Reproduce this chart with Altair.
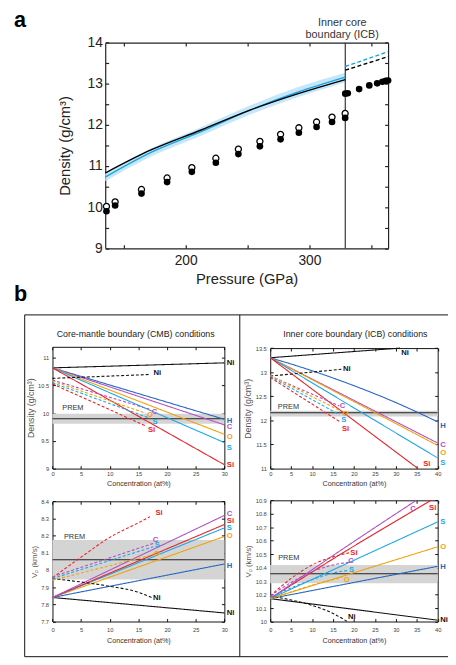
import altair as alt
import pandas as pd

W, H = 448, 657
FONT = "Liberation Sans"

# ---------------- Panel a data ----------------
prem_p = [136, 143, 164.3, 185, 205, 224.4, 242.6, 260, 276.7, 291.5, 305.8, 318.3, 328.9]
prem_open = [10.02, 10.13, 10.43, 10.71, 10.96, 11.19, 11.41, 11.60, 11.77, 11.93, 12.07, 12.19, 12.28]
prem_filled = [9.90, 10.04, 10.33, 10.61, 10.86, 11.08, 11.29, 11.48, 11.65, 11.81, 11.95, 12.07, 12.17]
ic_p = [329, 331, 340.2, 348.4, 354.8, 359, 361.7, 363.6]
ic_rho = [12.76, 12.77, 12.87, 12.96, 13.01, 13.05, 13.07, 13.08]
calc_p = [135, 172, 212, 252, 291, 329]
calc_black = [10.83, 11.39, 11.87, 12.36, 12.76, 13.10]
calc_blue = [10.73, 11.33, 11.83, 12.36, 12.80, 13.16]
band_lo = [10.63, 11.23, 11.73, 12.25, 12.68, 13.04]
band_hi = [10.83, 11.43, 11.94, 12.47, 12.92, 13.27]
ic_calc_p = [329, 363.6]
ic_black = [13.33, 13.66]
ic_blue = [13.42, 13.78]
icb_pressure = [329]
a_xdom, a_ydom = [135, 363.6], [9, 14]

# ---------------- Panel b data ----------------
ELEMENTS = ["Ni", "H", "C", "O", "S", "Si"]

cmb_rho_solid = {"Ni": ([0, 30], [10.82, 10.91]), "H": ([0, 30], [10.82, 9.89]),
                 "C": ([0, 30], [10.82, 9.79]), "O": ([0, 30], [10.82, 9.62]),
                 "S": ([0, 30], [10.82, 9.47]), "Si": ([0, 30], [10.82, 9.07])}
cmb_rho_dashed = {"Ni": ([0, 17], [10.63, 10.70]), "C": ([0, 17], [10.60, 10.07]),
                  "O": ([0, 16.3], [10.58, 10.0]), "S": ([0, 17], [10.55, 9.91]),
                  "Si": ([0, 16.3], [10.53, 9.77])}
cmb_rho_prem = [9.90, 9.81, 9.99]
cmb_rho_end = {"Ni": 10.91, "H": 9.86, "C": 9.745, "O": 9.57, "S": 9.37, "Si": 9.07}
cmb_rho_mid = [("Ni", 18.3, 10.72), ("C", 17.8, 10.03), ("O", 17.0, 9.96), ("S", 17.9, 9.85), ("Si", 17.3, 9.70)]

cmb_vp_solid = {"Ni": ([0, 30], [7.84, 7.75]), "H": ([0, 30], [7.84, 8.035]),
                "O": ([0, 30], [7.84, 8.195]), "S": ([0, 30], [7.84, 8.245]),
                "Si": ([0, 30], [7.84, 8.265]), "C": ([0, 30], [7.84, 8.318])}
cmb_vp_dashed = {"Ni": ([0, 5, 10, 15, 17.3], [7.95, 7.93, 7.905, 7.87, 7.84]),
                 "Si": ([0, 5, 10, 15, 17], [7.955, 8.075, 8.19, 8.275, 8.31]),
                 "C": ([0, 17.6], [7.96, 8.155]), "S": ([0, 17.6], [7.95, 8.135]),
                 "O": ([0, 17.6], [7.94, 8.09])}
cmb_vp_prem = [8.06, 7.945, 8.175]
cmb_vp_end = {"C": 8.326, "Si": 8.286, "S": 8.243, "O": 8.196, "H": 8.025, "Ni": 7.749}
cmb_vp_mid = [("Si", 18.6, 8.33), ("C", 18.0, 8.177), ("S", 18.3, 8.143), ("O", 18.2, 8.095), ("Ni", 18.2, 7.838)]

icb_rho_solid = {"Ni": ([0, 31], [13.3, 13.5]),
                 "H": ([0, 10, 20, 30, 40], [13.3, 13.03, 12.72, 12.37, 11.97]),
                 "C": ([0, 40], [13.3, 11.53]), "O": ([0, 40], [13.3, 11.48]),
                 "S": ([0, 40], [13.3, 11.22]), "Si": ([0, 35.3], [13.3, 11.0])}
icb_rho_dashed = {"Ni": ([0, 17], [12.92, 13.06]), "C": ([0, 16.5], [12.92, 12.30]),
                  "O": ([0, 16.5], [12.93, 12.21]), "S": ([0, 16.5], [12.91, 12.12]),
                  "Si": ([0, 16.5], [12.89, 11.98])}
icb_rho_prem = [12.16, 12.08, 12.20]
icb_rho_end = {"H": 11.89, "C": 11.49, "O": 11.32, "S": 11.12}
icb_rho_mid = [("Ni", 32.2, 13.40), ("Si", 37.4, 11.1), ("Ni", 18.3, 13.06), ("C", 17.25, 12.30),
               ("O", 18.0, 12.14), ("S", 17.6, 12.0), ("Si", 18.0, 11.83)]

icb_vp_solid = {"Ni": ([0, 40], [10.17, 10.01]), "H": ([0, 40], [10.17, 10.41]),
                "O": ([0, 40], [10.17, 10.555]), "S": ([0, 40], [10.17, 10.74]),
                "Si": ([0, 15, 38.4], [10.17, 10.465, 10.9]),
                "C": ([0, 15, 34.9], [10.17, 10.49, 10.9])}
icb_vp_dashed = {"Ni": ([0, 5, 10, 15, 18.4], [10.19, 10.16, 10.12, 10.06, 10.0]),
                 "Si": ([0, 5, 10, 15, 18.8], [10.19, 10.32, 10.42, 10.48, 10.51]),
                 "C": ([0, 5, 10, 15, 18.8], [10.19, 10.29, 10.37, 10.42, 10.44]),
                 "S": ([0, 5, 10, 15, 18.8], [10.18, 10.25, 10.31, 10.36, 10.38]),
                 "O": ([0, 5, 10, 15, 17.2], [10.17, 10.22, 10.27, 10.31, 10.33])}
icb_vp_prem = [10.355, 10.285, 10.42]
icb_vp_end = {"S": 10.742, "O": 10.552, "H": 10.406, "Ni": 10.012}
icb_vp_mid = [("C", 34.1, 10.839), ("Si", 38.8, 10.846), ("Si", 20.0, 10.51), ("C", 19.3, 10.45),
              ("S", 19.4, 10.384), ("O", 18.3, 10.31), ("Ni", 19.5, 10.034)]

prem_label_pos = {"cmb_rho": (1.7, 10.09), "cmb_vp": (2.0, 8.19), "icb_rho": (1.8, 12.28), "icb_vp": (1.9, 10.474)}

# ---------------- styles ----------------
COLORS = {"Ni": "#111111", "H": "#2566c0", "C": "#b150c5", "O": "#f0a30a", "S": "#1ba8e6", "Si": "#ec2127"}
color_enc = alt.Color("el:N", scale=alt.Scale(domain=ELEMENTS, range=[COLORS[e] for e in ELEMENTS]), legend=None)
dash_enc = alt.StrokeDash("kind:N", scale=alt.Scale(domain=["solid", "dashed"], range=[[1, 0], [3, 2]]), legend=None)
LABEL_SIZE = 7.8


def tick_layers(xs, ys, xpx, ypx, xticks, yticks, anchor, tsize, width, col):
    common = dict(labels=False, title=None, grid=False, ticks=True, tickSize=tsize, domain=True,
                  domainColor=col, tickColor=col, domainWidth=width, tickWidth=width)
    a = alt.Chart(anchor).mark_point(opacity=0).encode(
        x=alt.X("x:Q", scale=xs, axis=alt.Axis(orient="top", offset=-ypx[0], values=xticks, **common)),
        y=alt.Y("y:Q", scale=ys, axis=alt.Axis(orient="right", offset=xpx[0] - W, values=yticks, **common)))
    b = alt.Chart(anchor).mark_point(opacity=0).encode(
        x=alt.X("x:Q", scale=xs, axis=alt.Axis(orient="bottom", offset=ypx[1] - H, values=xticks, **common)),
        y=alt.Y("y:Q", scale=ys, axis=alt.Axis(orient="left", offset=-xpx[1], values=yticks, **common)))
    return [a, b]


def panel_b(solid, dashed, prem, end_lab, mid_lab, plab, xdom, ydom, xpx, ypx, xticks, yticks,
            ytitle, ytitle_size, xlab_pad, xtitle_pad, ytitle_pad):
    xs = alt.Scale(domain=xdom, range=xpx, nice=False, zero=False)
    ys = alt.Scale(domain=ydom, range=ypx, nice=False, zero=False)
    xax = alt.Axis(orient="bottom", offset=ypx[0] - H, values=xticks, format="~r", ticks=False, tickSize=0,
                   domain=False, grid=False, labelFontSize=5.8, labelColor="#444", labelPadding=xlab_pad,
                   labelFlush=False, labelOverlap=False, title="Concentration (at%)", titleFontSize=7.3,
                   titleFontWeight="normal", titleColor="#333", titlePadding=xtitle_pad, minExtent=0)
    yax = alt.Axis(orient="left", offset=-xpx[0], values=yticks, format="~r", ticks=False, tickSize=0,
                   domain=False, grid=False, labelFontSize=5.8, labelColor="#444", labelPadding=4,
                   labelFlush=False, labelOverlap=False, title=ytitle, titleFontSize=ytitle_size,
                   titleFontWeight="normal", titleColor="#555", titlePadding=ytitle_pad, minExtent=0)
    X = lambda f: alt.X(f, scale=xs, axis=xax)
    Y = lambda f: alt.Y(f, scale=ys, axis=yax)
    rows = []
    for kind, d in (("solid", solid), ("dashed", dashed)):
        for el, (xv, yv) in d.items():
            for a, b in zip(xv, yv):
                rows.append({"x": a, "y": b, "el": el, "kind": kind, "key": el + kind})
    df = pd.DataFrame(rows)
    pdf = pd.DataFrame({"x0": [xdom[0]], "x1": [xdom[1]], "v": [prem[0]], "lo": [prem[1]], "hi": [prem[2]],
                        "lx": [plab[0]], "ly": [plab[1]], "t": ["PREM"]})
    edf = pd.DataFrame({"el": list(end_lab), "x": [xdom[1]] * len(end_lab), "y": list(end_lab.values())})
    mdf = pd.DataFrame({"el": [m[0] for m in mid_lab], "x": [m[1] for m in mid_lab], "y": [m[2] for m in mid_lab]})
    band = alt.Chart(pdf).mark_rect(color="#d4d4d4").encode(x=X("x0:Q"), x2="x1", y=Y("lo:Q"), y2="hi")
    pline = alt.Chart(pdf).mark_rule(color="#222", strokeWidth=1.1).encode(x=X("x0:Q"), x2="x1", y=Y("v:Q"))
    ptext = alt.Chart(pdf).mark_text(align="left", baseline="middle", fontSize=7.5, color="#333").encode(
        x=X("lx:Q"), y=Y("ly:Q"), text="t:N")
    lines = alt.Chart(df).mark_line(strokeWidth=1.1, interpolate="monotone").encode(
        x=X("x:Q"), y=Y("y:Q"), color=color_enc, strokeDash=dash_enc, detail="key:N", order="x:Q")
    etext = alt.Chart(edf).mark_text(align="left", baseline="middle", dx=2.5, fontSize=LABEL_SIZE,
                                     fontWeight="bold").encode(
        x=X("x:Q"), y=Y("y:Q"), text="el:N", color=color_enc)
    mtext = alt.Chart(mdf).mark_text(align="center", baseline="middle", fontSize=LABEL_SIZE,
                                     fontWeight="bold").encode(
        x=X("x:Q"), y=Y("y:Q"), text="el:N", color=color_enc)
    content = alt.layer(band, pline, ptext, lines, etext, mtext)
    anchor = pd.DataFrame({"x": [xdom[0]], "y": [ydom[0]]})
    return [content] + tick_layers(xs, ys, xpx, ypx, xticks, yticks, anchor, 3, 1, "#111")


# ---------------- Panel a ----------------
a_xpx, a_ypx = [99, 387], [238.7, 29.3]
axs = alt.Scale(domain=a_xdom, range=a_xpx, nice=False, zero=False)
ays = alt.Scale(domain=a_ydom, range=a_ypx, nice=False, zero=False)
a_xax = alt.Axis(orient="bottom", offset=a_ypx[0] - H, values=[200, 300], format="~r", ticks=False, tickSize=0,
                 domain=False, grid=False, labelFontSize=14, labelColor="#222", labelPadding=5,
                 labelFlush=False, labelOverlap=False, title="Pressure (GPa)", titleFontSize=15,
                 titleFontWeight="normal", titleColor="#222", titlePadding=5, minExtent=0)
a_yax = alt.Axis(orient="left", offset=-a_xpx[0], values=[9, 10, 11, 12, 13, 14], format="~r", ticks=False,
                 tickSize=0, domain=False, grid=False, labelFontSize=14, labelColor="#222", labelPadding=3,
                 labelFlush=False, labelOverlap=False, title="Density (g/cm³)", titleFontSize=15,
                 titleFontWeight="normal", titleColor="#222", titlePadding=15, minExtent=0)
AX = lambda f: alt.X(f, scale=axs, axis=a_xax)
AY = lambda f: alt.Y(f, scale=ays, axis=a_yax)

calc_df = pd.DataFrame({"p": calc_p, "black": calc_black, "blue": calc_blue, "lo": band_lo, "hi": band_hi})
ic_calc_df = pd.DataFrame({"p": ic_calc_p, "black": ic_black, "blue": ic_blue})
prem_df = pd.DataFrame({"p": prem_p, "open": prem_open, "filled": prem_filled})
ic_df = pd.DataFrame({"p": ic_p, "rho": ic_rho})
icb_df = pd.DataFrame({"p": icb_pressure, "lo": [a_ydom[0]], "hi": [a_ydom[1]]})

a_content = alt.layer(
    alt.Chart(calc_df).mark_area(color="#bfe4f6", opacity=0.9, interpolate="monotone").encode(
        x=AX("p:Q"), y=AY("lo:Q"), y2="hi"),
    alt.Chart(icb_df).mark_rule(color="#333", strokeWidth=1.2).encode(x=AX("p:Q"), y=AY("lo:Q"), y2="hi"),
    alt.Chart(calc_df).mark_line(color="#1ba3e3", strokeWidth=1.4, interpolate="monotone").encode(
        x=AX("p:Q"), y=AY("blue:Q")),
    alt.Chart(calc_df).mark_line(color="#000", strokeWidth=1.4, interpolate="monotone").encode(
        x=AX("p:Q"), y=AY("black:Q")),
    alt.Chart(ic_calc_df).mark_line(color="#1ba3e3", strokeWidth=1.4, strokeDash=[4, 2.5]).encode(
        x=AX("p:Q"), y=AY("blue:Q")),
    alt.Chart(ic_calc_df).mark_line(color="#000", strokeWidth=1.4, strokeDash=[4, 2.5]).encode(
        x=AX("p:Q"), y=AY("black:Q")),
    alt.Chart(prem_df).mark_point(shape="circle", filled=True, fill="white", stroke="black", strokeWidth=1.3,
                                  size=38, opacity=1).encode(x=AX("p:Q"), y=AY("open:Q")),
    alt.Chart(prem_df).mark_circle(color="black", size=46, opacity=1).encode(x=AX("p:Q"), y=AY("filled:Q")),
    alt.Chart(ic_df).mark_circle(color="black", size=46, opacity=1).encode(x=AX("p:Q"), y=AY("rho:Q")),
)
a_anchor = pd.DataFrame({"x": [a_xdom[0]], "y": [a_ydom[0]]})
panel_a = [a_content] + tick_layers(axs, ays, a_xpx, a_ypx, [150, 200, 250, 300, 350],
                                    [9 + 0.5 * i for i in range(11)], a_anchor, 3.5, 1.2, "#222")

# ---------------- Panel b subplots ----------------
L_X, R_X = [45.3, 220.3], [267, 437.5]
TOP_Y_RHO_L, TOP_Y_RHO_R = [463, 339], [463, 340.3]
VP_Y_L, VP_Y_R = [618.7, 496.3], [618.7, 495.3]
xt30, xt40 = list(range(0, 31, 5)), list(range(0, 41, 5))

sub1 = panel_b(cmb_rho_solid, cmb_rho_dashed, cmb_rho_prem, cmb_rho_end, cmb_rho_mid, prem_label_pos["cmb_rho"],
               [0, 30], [9, 11.2], L_X, TOP_Y_RHO_L, xt30, [9, 9.5, 10, 10.5, 11], "Density (g/cm³)", 9, 2, 3, 2)
sub2 = panel_b(cmb_vp_solid, cmb_vp_dashed, cmb_vp_prem, cmb_vp_end, cmb_vp_mid, prem_label_pos["cmb_vp"],
               [0, 30], [7.7, 8.4], L_X, VP_Y_L, xt30, [round(7.7 + 0.1 * i, 1) for i in range(8)],
               "Vₚ (km/s)", 8, 5, 5, 2)
sub3 = panel_b(icb_rho_solid, icb_rho_dashed, icb_rho_prem, icb_rho_end, icb_rho_mid, prem_label_pos["icb_rho"],
               [0, 40], [11, 13.5], R_X, TOP_Y_RHO_R, xt40, [11, 11.5, 12, 12.5, 13, 13.5], "Density (g/cm³)", 9,
               2, 3, 3)
sub4 = panel_b(icb_vp_solid, icb_vp_dashed, icb_vp_prem, icb_vp_end, icb_vp_mid, prem_label_pos["icb_vp"],
               [0, 40], [10, 10.9], R_X, VP_Y_R, xt40, [round(10 + 0.1 * i, 1) for i in range(10)],
               "Vₚ (km/s)", 8, 5, 5, 3)

# ---------------- annotations ----------------
def txt(t, x, y, size, weight="normal", color="#222", align="center", baseline="middle"):
    return alt.Chart(pd.DataFrame({"t": [t]})).mark_text(
        fontSize=size, fontWeight=weight, color=color, align=align, baseline=baseline).encode(
        x=alt.value(x), y=alt.value(y), text="t:N")

one = pd.DataFrame({"t": [""]})
annot = [
    txt("a", 6, 13.7, 22, "bold", "#000", "left", "alphabetic"),
    txt("b", 6, 292, 22, "bold", "#000", "left", "alphabetic"),
    txt("Inner core", 340.3, 9.3, 11, color="#333"),
    txt("boundary (ICB)", 340.3, 21.3, 11, color="#333"),
    txt("Core-mantle boundary (CMB) conditions", 130, 326, 9),
    txt("Inner core boundary (ICB) conditions", 353.7, 326, 9),
    alt.Chart(one).mark_rect(fillOpacity=0, stroke="#111", strokeWidth=1).encode(
        x=alt.value(17), x2=alt.value(470), y=alt.value(306.5), y2=alt.value(654.5)),
    alt.Chart(one).mark_rule(color="#111", strokeWidth=1).encode(
        x=alt.value(236), y=alt.value(306.5), y2=alt.value(654.5)),
]

chart = alt.layer(*(panel_a + sub1 + sub2 + sub3 + sub4 + annot)).resolve_scale(
    x="independent", y="independent").resolve_axis(x="independent", y="independent").properties(
    width=W, height=H, autosize=alt.AutoSizeParams(type="none"), padding=0
).configure_view(stroke=None).configure_axis(labelFont=FONT, titleFont=FONT, grid=False).configure_text(font=FONT)

chart.save("out.html", embed_options={"renderer": "svg", "actions": False})
